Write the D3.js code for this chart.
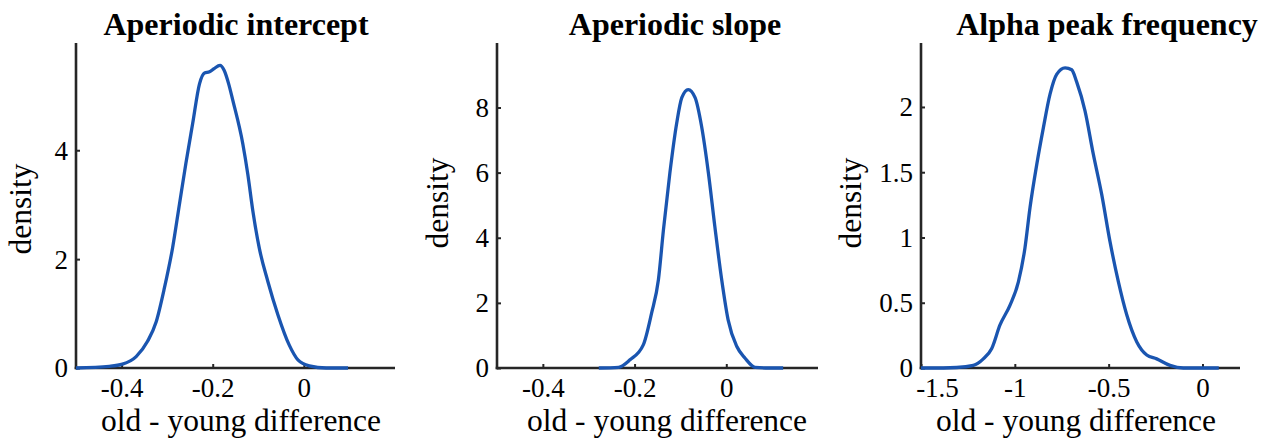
<!DOCTYPE html>
<html>
<head>
<meta charset="utf-8">
<script src="https://cdn.jsdelivr.net/npm/d3@7"></script>
<style>
  html, body { margin: 0; padding: 0; background: #fff; }
  svg { display: block; }
  text { font-family: "Liberation Serif", "Times New Roman", serif; fill: #000; }
</style>
</head>
<body>
<svg id="chart" width="1270" height="444"></svg>
<script>
// ---- data ----
const titles = ["Aperiodic intercept", "Aperiodic slope", "Alpha peak frequency"];
const xLabel = "old - young difference";
const yLabel = "density";

const interceptX = [-0.5, -0.427, -0.398, -0.368, -0.343, -0.324, -0.306, -0.288, -0.273, -0.259, -0.244, -0.229, -0.218, -0.207, -0.197, -0.184, -0.175, -0.165, -0.156, -0.134, -0.123, -0.112, -0.098, -0.079, -0.057, -0.032, -0.013, 0.012, 0.049, 0.097];
const interceptD = [0, 0.03, 0.07, 0.21, 0.49, 0.85, 1.47, 2.21, 3.01, 3.75, 4.49, 5.22, 5.42, 5.44, 5.50, 5.56, 5.47, 5.22, 4.92, 4.12, 3.56, 2.89, 2.21, 1.59, 0.98, 0.42, 0.15, 0.04, 0.0, 0];

const slopeX = [-0.278, -0.235, -0.210, -0.181, -0.163, -0.148, -0.137, -0.123, -0.108, -0.097, -0.083, -0.068, -0.054, -0.039, -0.025, -0.010, 0.004, 0.023, 0.041, 0.063, 0.095, 0.124];
const slopeD = [0, 0.02, 0.25, 0.71, 1.68, 2.71, 4.25, 5.99, 7.53, 8.30, 8.55, 8.30, 7.43, 5.99, 4.35, 2.71, 1.48, 0.66, 0.30, 0.02, 0, 0];

const apfX = [-1.5, -1.452, -1.310, -1.221, -1.168, -1.123, -1.079, -1.026, -0.981, -0.946, -0.919, -0.883, -0.848, -0.812, -0.777, -0.732, -0.697, -0.670, -0.626, -0.582, -0.537, -0.493, -0.448, -0.404, -0.350, -0.297, -0.244, -0.173, -0.102, 0.087];
const apfD = [0, 0, 0.004, 0.02, 0.07, 0.15, 0.33, 0.48, 0.66, 0.92, 1.23, 1.56, 1.84, 2.10, 2.25, 2.30, 2.285, 2.19, 1.97, 1.64, 1.33, 0.97, 0.66, 0.41, 0.20, 0.10, 0.07, 0.02, 0, 0];

const xTicks1 = [-0.4, -0.2, 0];
const xTicks2 = [-0.4, -0.2, 0];
const xTicks3 = [-1.5, -1, -0.5, 0];
const yTicks1 = [0, 2, 4];
const yTicks2 = [0, 2, 4, 6, 8];
const yTicks3 = [0, 0.5, 1, 1.5, 2];

// ---- layout ----
const panels = [
  { title: titles[0], xs: interceptX, ys: interceptD, xDom: [-0.5, 0.2], yDom: [0, 5.97],
    xTicks: xTicks1, yTicks: yTicks1, left: 76, right: 395, titleX: 236, xLabX: 241, yLabX: 31, yLabY: 209 },
  { title: titles[1], xs: slopeX, ys: slopeD, xDom: [-0.5, 0.2], yDom: [0, 9.98],
    xTicks: xTicks2, yTicks: yTicks2, left: 497, right: 818, titleX: 675, xLabX: 667, yLabX: 448, yLabY: 203 },
  { title: titles[2], xs: apfX, ys: apfD, xDom: [-1.5, 0.2], yDom: [0, 2.49],
    xTicks: xTicks3, yTicks: yTicks3, left: 921, right: 1240, titleX: 1107, xLabX: 1076, yLabX: 861, yLabY: 203 }
];
const plotTop = 43, plotBottom = 368;
const axisColor = "#262626";
const lineColor = "#1a55b0";

const svg = d3.select("#chart");

panels.forEach((p, pi) => {
  const x = d3.scaleLinear().domain(p.xDom).range([p.left, p.right]);
  const y = d3.scaleLinear().domain(p.yDom).range([plotBottom, plotTop]);
  const g = svg.append("g");

  // x axis (ticks pointing inward)
  const xAxis = d3.axisBottom(x).tickValues(p.xTicks).tickSize(-4).tickSizeOuter(0)
    .tickFormat(d => String(d));
  const gx = g.append("g").attr("transform", `translate(0,${plotBottom})`).call(xAxis)
    .attr("font-family", "Liberation Serif");
  gx.select(".domain").attr("stroke", axisColor).attr("stroke-width", 2.6)
    .attr("d", `M${p.left - 1.3},0H${p.right}`);
  gx.selectAll(".tick line").attr("stroke", axisColor).attr("stroke-width", 2);
  gx.selectAll(".tick text").attr("font-size", 27).attr("font-family", "Liberation Serif")
    .attr("fill", "#000").attr("y", 29).attr("dy", 0)
    .attr("dx", d => (pi === 2 && d === -1.5) ? 16 : 0);

  // y axis
  const yAxis = d3.axisLeft(y).tickValues(p.yTicks).tickSize(-4).tickSizeOuter(0)
    .tickFormat(d => String(d));
  const gy = g.append("g").attr("transform", `translate(${p.left},0)`).call(yAxis)
    .attr("font-family", "Liberation Serif");
  gy.select(".domain").attr("stroke", axisColor).attr("stroke-width", 2.6)
    .attr("d", `M0,${plotTop}V${plotBottom + 1.3}`);
  gy.selectAll(".tick line").attr("stroke", axisColor).attr("stroke-width", 2);
  gy.selectAll(".tick text").attr("font-size", 27).attr("font-family", "Liberation Serif")
    .attr("fill", "#000").attr("x", -8).attr("dy", "0.33em");

  // density curve
  const line = d3.line().x((d, i) => x(p.xs[i])).y((d, i) => y(p.ys[i])).curve(d3.curveMonotoneX);
  g.append("path").datum(p.xs).attr("d", line)
    .attr("fill", "none").attr("stroke", lineColor).attr("stroke-width", 3.3)
    .attr("stroke-linejoin", "round").attr("stroke-linecap", "butt");

  // title
  g.append("text").attr("x", p.titleX).attr("y", 35).attr("text-anchor", "middle")
    .attr("font-size", 32).attr("font-weight", "bold").text(p.title);
  // x label
  g.append("text").attr("x", p.xLabX).attr("y", 431).attr("text-anchor", "middle")
    .attr("font-size", 31.5).text(xLabel);
  // y label
  g.append("text").attr("transform", `translate(${p.yLabX},${p.yLabY}) rotate(-90)`)
    .attr("text-anchor", "middle").attr("font-size", 31.5).text(yLabel);
});
</script>
</body>
</html>
